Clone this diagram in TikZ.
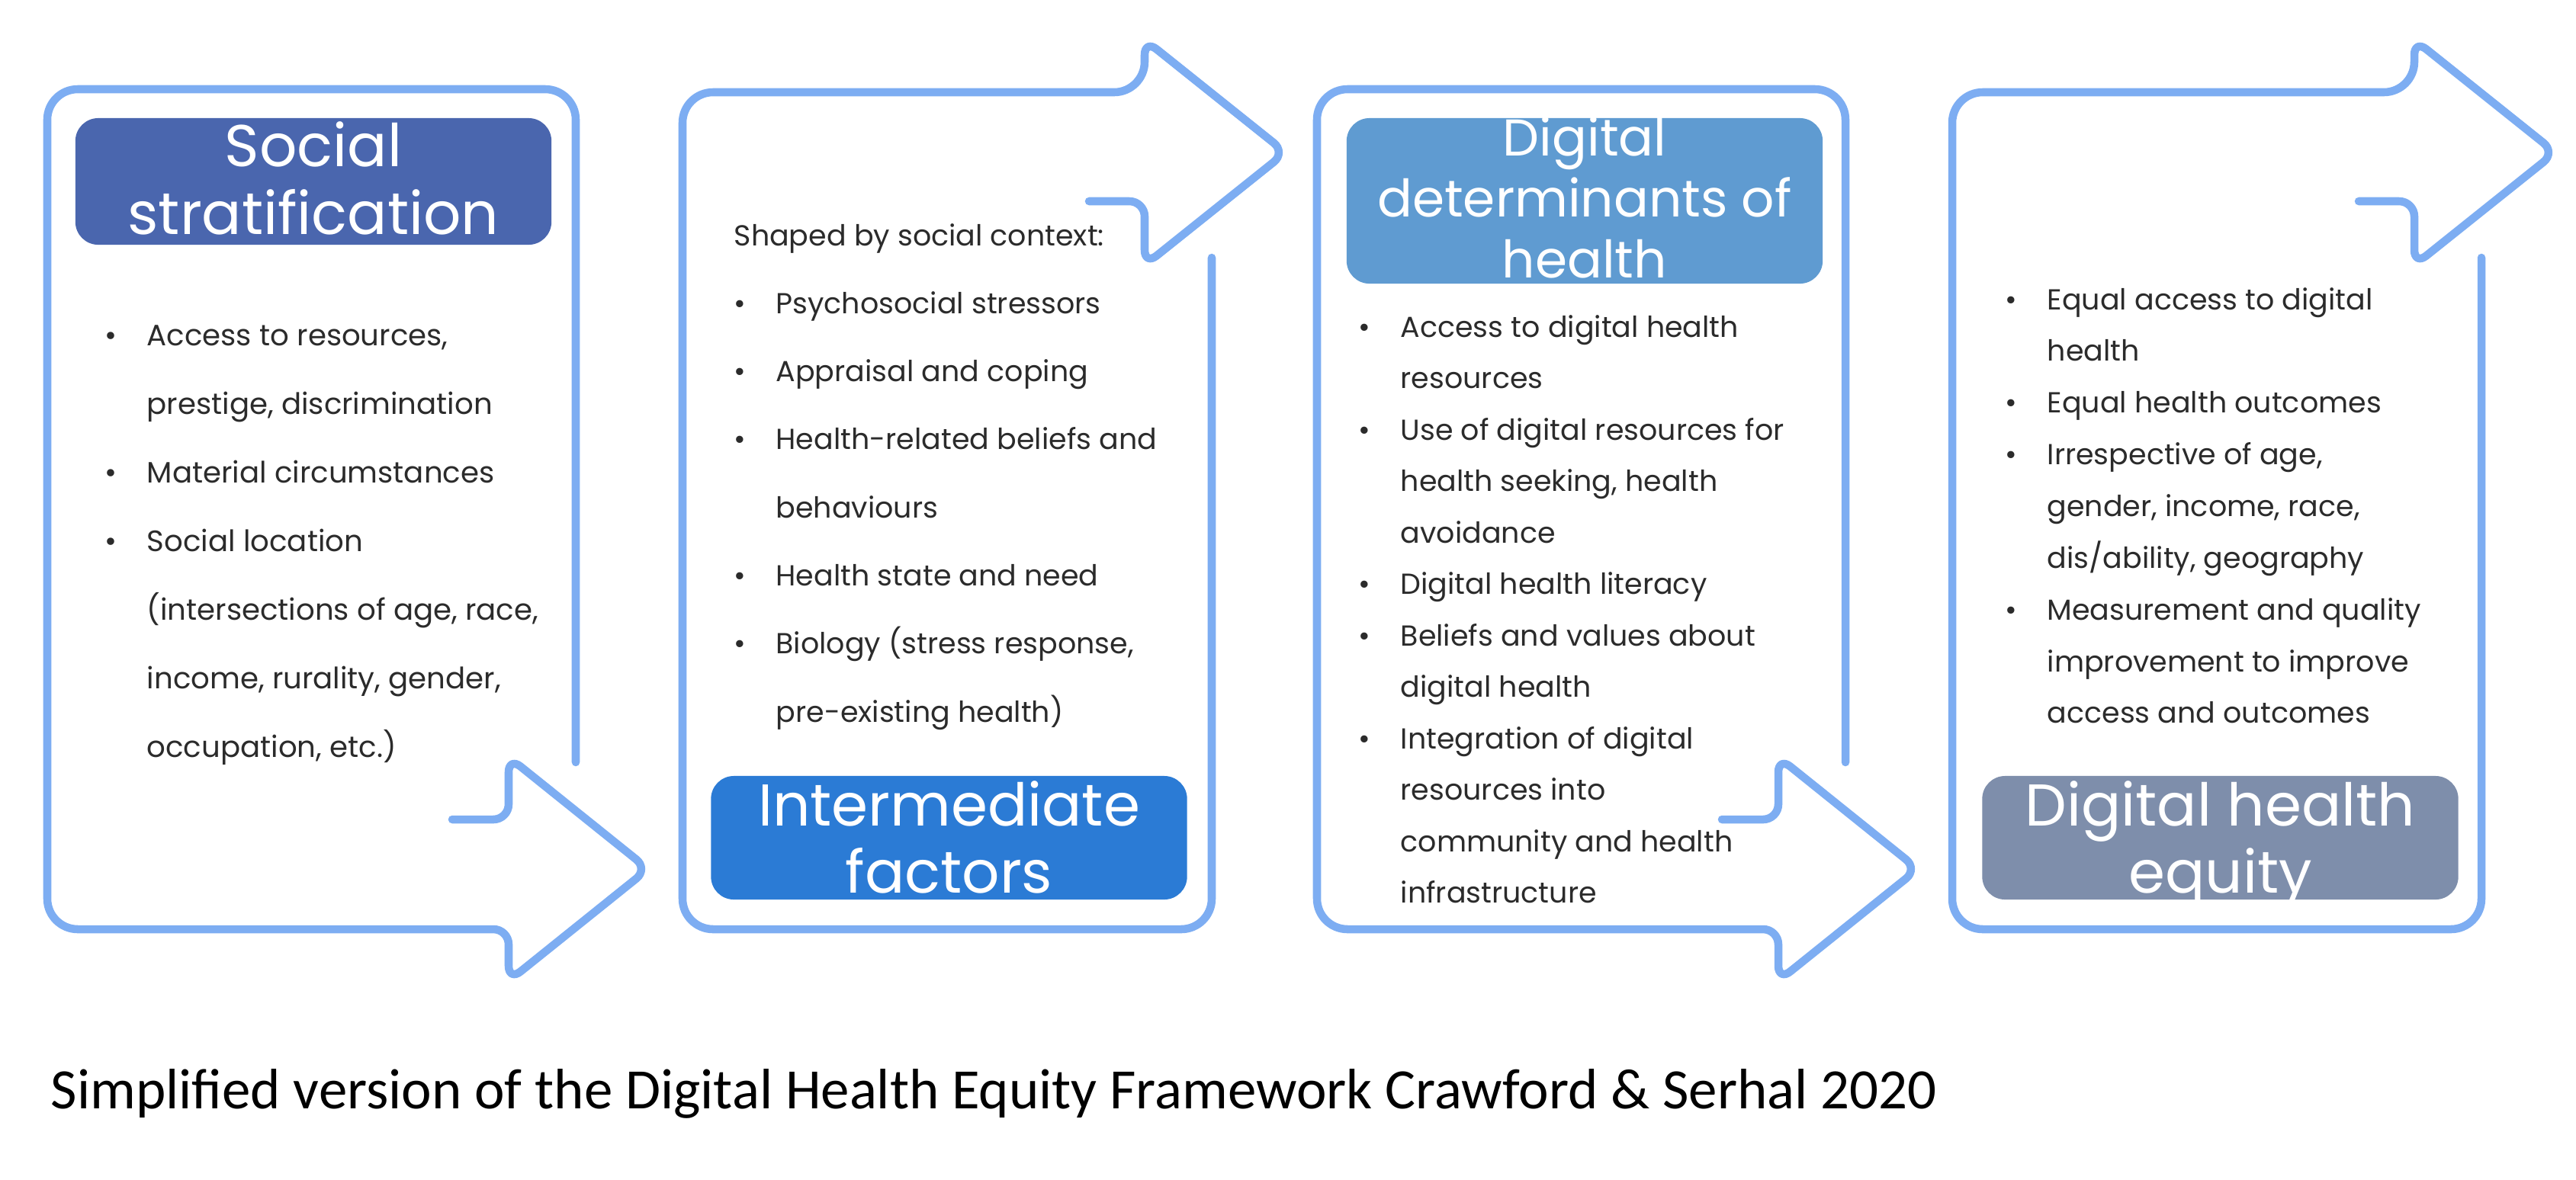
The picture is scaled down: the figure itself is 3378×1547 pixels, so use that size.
\documentclass[tikz,border=0pt]{standalone}
\usepackage{fontspec}
\setmainfont{Poppins}
\newfontfamily\capfont{Carlito}
\definecolor{framecol}{HTML}{7DADF2}
\definecolor{socialcol}{HTML}{4A66AE}
\definecolor{intercol}{HTML}{2B7BD5}
\definecolor{digitcol}{HTML}{5F9BD1}
\definecolor{equitycol}{HTML}{7E8EAB}
\definecolor{textcol}{HTML}{2B2B2B}
\newcommand{\itm}{\makebox[0.55cm][l]{\textbullet}}
\newcommand{\cnt}{\hspace*{0.55cm}}

\begin{document}
\begin{tikzpicture}[x=0.01cm, y=-0.01cm,
  frame/.style={draw=framecol, line width=3pt, line cap=round, line join=round},
  headbox/.style={rounded corners=0.3cm, inner sep=0pt, minimum width=6.24cm},
  headtext/.style={anchor=base, inner sep=0pt, text=white, font={\fontsize{22}{25.3}\selectfont}},
  bodytext/.style={anchor=base west, inner sep=0pt, text=textcol}]
\useasboundingbox (0,0) rectangle (3378,1547);

\draw[frame] (593,1075) [rounded corners=0.2cm] -- (667,1075) -- (667,993) -- (850,1140) -- (667,1287) -- (667,1219) [rounded corners=0.4cm] -- (62,1219) -- (62,117) -- (755,117) -- (755,1000);
\draw[frame] (1589,338) [rounded corners=0.4cm] -- (1589,1219) -- (895,1219) -- (895,121) -- (1501,121) [rounded corners=0.2cm] -- (1501,52) -- (1686,200) -- (1501,348) -- (1501,264) -- (1428,264);
\draw[frame] (2258,1075) [rounded corners=0.2cm] -- (2332,1075) -- (2332,993) -- (2515,1140) -- (2332,1287) -- (2332,1219) [rounded corners=0.4cm] -- (1727,1219) -- (1727,117) -- (2420,117) -- (2420,1000);
\draw[frame] (3254,338) [rounded corners=0.4cm] -- (3254,1219) -- (2560,1219) -- (2560,121) -- (3166,121) [rounded corners=0.2cm] -- (3166,52) -- (3351,200) -- (3166,348) -- (3166,264) -- (3093,264);

\node[headbox, fill=socialcol, minimum height=1.66cm] (socialbox) at (411,238) {};
\node[headtext] (socialtitle) at (411,218.5) {\begin{tabular}[t]{@{}c@{}}Social\\stratification\end{tabular}};
\node[headbox, fill=intercol, minimum height=1.62cm] (interbox) at (1244.5,1099) {};
\node[headtext] (intertitle) at (1244.5,1083) {\begin{tabular}[t]{@{}c@{}}Intermediate\\factors\end{tabular}};
\node[headbox, fill=digitcol, minimum height=2.17cm] (digitbox) at (2078,263.5) {};
\node[headtext, font={\fontsize{19.3}{22.8}\selectfont}] (digittitle) at (2078,204.5) {\begin{tabular}[t]{@{}c@{}}Digital\\determinants of\\health\end{tabular}};
\node[headbox, fill=equitycol, minimum height=1.62cm] (equitybox) at (2911.5,1099) {};
\node[headtext] (equitytitle) at (2911.5,1083) {\begin{tabular}[t]{@{}c@{}}Digital health\\equity\end{tabular}};

\node[bodytext, font={\fontsize{11}{25.6}\selectfont}] (socialitems) at (137,453) {\begin{tabular}[t]{@{}l@{}}
\itm Access to resources,\\
\cnt prestige, discrimination\\
\itm Material circumstances\\
\itm Social location\\
\cnt (intersections of age, race,\\
\cnt income, rurality, gender,\\
\cnt occupation, etc.)
\end{tabular}};
\node[bodytext, font={\fontsize{10.8}{25.4}\selectfont}] (interitems) at (962,322) {\begin{tabular}[t]{@{}l@{}}
Shaped by social context:\\
\itm Psychosocial stressors\\
\itm Appraisal and coping\\
\itm Health-related beliefs and\\
\cnt behaviours\\
\itm Health state and need\\
\itm Biology (stress response,\\
\cnt pre-existing health)
\end{tabular}};
\node[bodytext, font={\fontsize{10.8}{19.2}\selectfont}] (digititems) at (1781,442) {\begin{tabular}[t]{@{}l@{}}
\itm Access to digital health\\
\cnt resources\\
\itm Use of digital resources for\\
\cnt health seeking, health\\
\cnt avoidance\\
\itm Digital health literacy\\
\itm Beliefs and values about\\
\cnt digital health\\
\itm Integration of digital\\
\cnt resources into\\
\cnt community and health\\
\cnt infrastructure
\end{tabular}};
\node[bodytext, font={\fontsize{10.8}{19.3}\selectfont}] (equityitems) at (2629,406) {\begin{tabular}[t]{@{}l@{}}
\itm Equal access to digital\\
\cnt health\\
\itm Equal health outcomes\\
\itm Irrespective of age,\\
\cnt gender, income, race,\\
\cnt dis/ability, geography\\
\itm Measurement and quality\\
\cnt improvement to improve\\
\cnt access and outcomes
\end{tabular}};

\node[anchor=base west, inner sep=0pt, font={\capfont\fontsize{21.3}{25}\selectfont}] (caption) at (66,1454) {Simplified version of the Digital Health Equity Framework Crawford \& Serhal 2020};
\end{tikzpicture}
\end{document}
